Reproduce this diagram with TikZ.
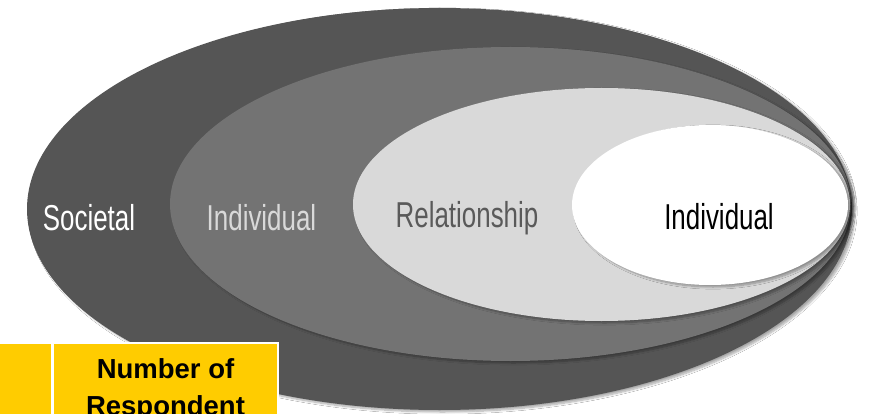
\documentclass[tikz,border=0pt]{standalone}
\usepackage{fontspec}
\setmainfont{Liberation Sans}
\newfontfamily\narrowfont[FakeStretch=0.72]{Liberation Sans}
\usetikzlibrary{shadows.blur}
\definecolor{darkring}{HTML}{555555}
\definecolor{midring}{HTML}{737373}
\definecolor{lightring}{HTML}{D9D9D9}
\definecolor{relcol}{HTML}{5A5A5A}
\definecolor{tabyellow}{HTML}{FFCC00}
\begin{document}
\begin{tikzpicture}[x=1pt,y=-1pt,
  ring/.style={blur shadow={shadow xshift=3pt,shadow yshift=-2pt,shadow blur steps=8,shadow opacity=35}},
  lbl/.style={font=\narrowfont\fontsize{36}{40}\selectfont,anchor=base,inner sep=0pt},
  cell/.style={fill=tabyellow,draw=white,line width=2pt},
  celltext/.style={font=\bfseries\fontsize{27.5}{37}\selectfont,align=center,anchor=north,inner sep=0pt}]
\useasboundingbox (0,0) rectangle (872,414);
\fill[white] (0,0) rectangle (872,414);
% nested ellipses
\path[ring,fill=darkring] (439.5,209) ellipse [x radius=412.5pt, y radius=201pt];
\path[ring,fill=midring] (510.5,204) ellipse [x radius=340.5pt, y radius=157pt];
\path[ring,fill=lightring] (601.5,204.5) ellipse [x radius=248.5pt, y radius=116.5pt];
\path[ring,fill=white] (710,205) ellipse [x radius=138pt, y radius=80pt];
% labels
\node[lbl,text=white] (soc) at (89,230) {Societal};
\node[lbl,text=lightring] (ind1) at (261.5,230) {Individual};
\node[lbl,text=relcol] (rel) at (467,227) {Relationship};
\node[lbl,text=black] (ind2) at (719,229) {Individual};
% yellow table
\path[cell] (-5,343) rectangle (51.5,420);
\path[cell] (53,343) rectangle (278,420);
\node[celltext] (num) at (165.5,358) {Number of\\Respondent};
\end{tikzpicture}
\end{document}
